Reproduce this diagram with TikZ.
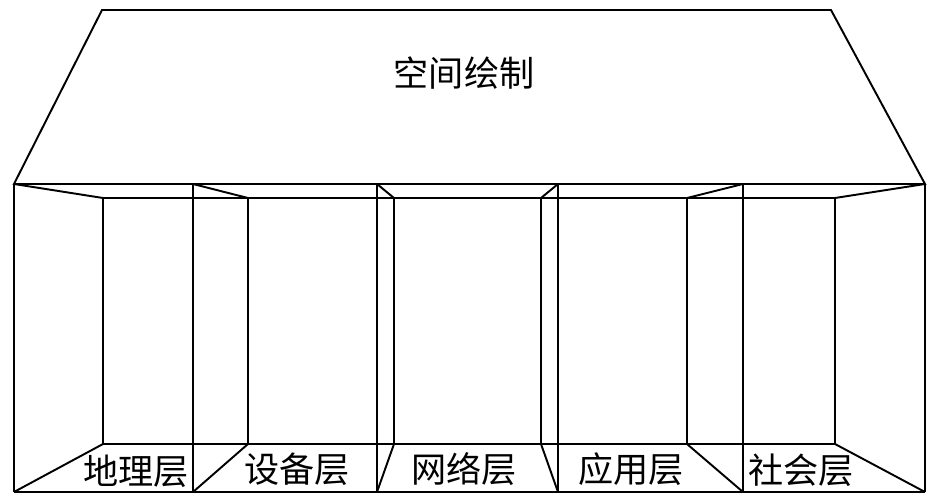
\documentclass[tikz,border=0pt]{standalone}
\usepackage{fontspec}
\newfontfamily\cjk{Noto Sans CJK SC}
\usetikzlibrary{positioning}
\tikzset{
  wall/.style={draw,line width=1.1pt,line join=miter},
  layerlabel/.style={font=\cjk\fontsize{20}{24}\selectfont,inner sep=0pt},
  rooflabel/.style={font=\cjk\fontsize{20}{24}\selectfont,inner sep=0pt}
}

\begin{document}
\begin{tikzpicture}[x=0.02cm,y=-0.02cm]
  \useasboundingbox (0,0) rectangle (941,504);

  % roof
  \coordinate (rtl) at (102,10);
  \coordinate (rtr) at (831,10);
  \coordinate (rbr) at (925,184);
  \coordinate (rbl) at (14,184);
  \draw[wall] (rtl) -- (rtr) -- (rbr) -- (rbl) -- cycle;
  \node[rooflabel] (roof) at (464,73) {空间绘制};

  % front frame
  \coordinate (ftl) at (14,184);
  \coordinate (ftr) at (925,184);
  \coordinate (fbl) at (14,492);
  \coordinate (fbr) at (925,492);
  \draw[wall] (ftl) -- (ftr);
  \draw[wall] (fbl) -- (fbr);

  % back frame
  \coordinate (btl) at (103,198);
  \coordinate (btr) at (835,198);
  \coordinate (bbl) at (103,444);
  \coordinate (bbr) at (835,444);
  \draw[wall] (btl) -- (btr);
  \draw[wall] (bbl) -- (bbr);

  % front posts
  \foreach \x/\n in {14/f0,193/f1,377/f2,558/f3,743/f4,925/f5} {
    \coordinate (\n t) at (\x,184);
    \coordinate (\n b) at (\x,492);
    \draw[wall] (\n t) -- (\n b);
  }
  % back posts
  \foreach \x/\n in {103/b0,248/b1,394/b2,541/b3,687/b4,835/b5} {
    \coordinate (\n t) at (\x,198);
    \coordinate (\n b) at (\x,444);
    \draw[wall] (\n t) -- (\n b);
  }

  % side walls
  \foreach \f/\b in {f0/b0,f1/b1,f2/b2,f3/b3,f4/b4,f5/b5} {
    \draw[wall] (\f t) -- (\b t);
    \draw[wall] (\f b) -- (\b b);
  }

  % layers
  \node[layerlabel] (geo) at (136,471) {地理层};
  \node[layerlabel] (dev) at (297,469) {设备层};
  \node[layerlabel] (net) at (464,469) {网络层};
  \node[layerlabel] (app) at (631,469) {应用层};
  \node[layerlabel] (soc) at (801,470) {社会层};
\end{tikzpicture}
\end{document}
